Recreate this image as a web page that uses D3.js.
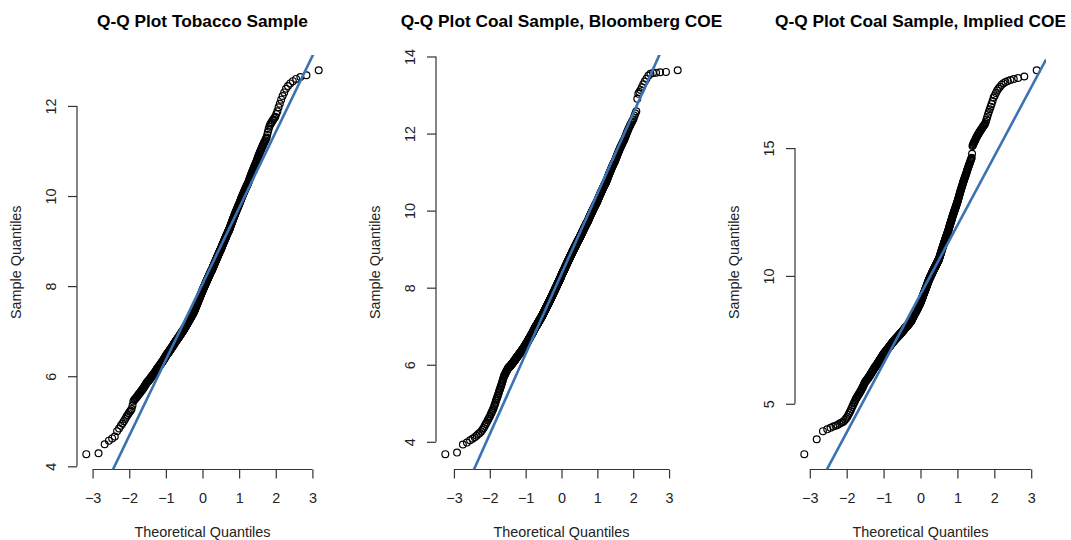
<!DOCTYPE html>
<html>
<head>
<meta charset="utf-8">
<script src="https://cdn.jsdelivr.net/npm/d3@7"></script>
<style>
  html, body { margin: 0; padding: 0; background: #fff; }
  svg { display: block; font-family: "Liberation Sans", Arial, Helvetica, sans-serif; }
</style>
</head>
<body>
<svg id="chart" width="1071" height="540"></svg>
<script>
// titles and tick labels
var panelTitles = ['Q-Q Plot Tobacco Sample', 'Q-Q Plot Coal Sample, Bloomberg COE', 'Q-Q Plot Coal Sample, Implied COE'];
var xLabel = 'Theoretical Quantiles',
    yLabel = 'Sample Quantiles';
var xTicks = [-3, -2, -1, 0, 1, 2, 3];
var yTicksTobacco = [4, 6, 8, 10, 12],
    yTicksBloomberg = [4, 6, 8, 10, 12, 14],
    yTicksImplied = [5, 10, 15];

// sorted sample values
var tobaccoSample = [
  4.27,4.29,4.49,4.57,4.62,4.66,4.78,4.84,4.90,4.95,5.00,5.05,5.10,5.14,5.18,5.21,
  5.24,5.27,5.35,5.44,5.47,5.49,5.51,5.53,5.55,5.57,5.59,
  5.61,5.62,5.64,5.66,5.68,5.69,5.71,5.73,5.74,5.76,5.78,5.79,5.81,5.83,5.84,5.86,5.87,
  5.88,5.89,5.90,5.91,5.92,5.93,5.94,5.96,5.97,5.98,5.99,6.00,6.01,6.02,6.03,6.04,6.05,6.06,6.07,6.08,6.09,6.10,6.11,6.12,6.13,6.15,
  6.16,6.17,6.17,6.18,6.19,6.20,6.21,6.22,6.22,6.23,6.24,6.25,6.26,6.27,6.28,6.28,6.29,6.30,6.31,6.32,6.33,6.33,6.34,6.35,6.36,6.37,6.38,6.39,6.39,6.40,6.41,6.42,6.43,6.44,6.45,
  6.46,6.46,6.47,6.48,6.48,6.49,6.50,6.50,6.51,6.52,6.52,6.53,6.54,6.54,6.55,6.56,6.56,6.57,6.58,6.58,6.59,6.60,6.60,6.61,6.62,6.62,6.63,6.64,6.64,6.65,6.66,6.66,6.67,6.68,6.68,6.69,6.70,6.70,6.71,6.72,6.72,6.73,6.74,6.74,6.75,
  6.76,6.76,6.77,6.77,6.78,6.79,6.79,6.80,6.80,6.81,6.81,6.82,6.82,6.83,6.84,6.84,6.85,6.85,6.86,6.86,6.87,6.87,6.88,6.89,6.89,6.90,6.90,6.91,6.91,6.92,6.92,6.93,6.94,6.94,6.95,6.95,6.96,6.96,6.97,6.97,6.98,6.99,6.99,7.00,7.00,7.01,7.01,7.02,7.02,7.03,7.04,7.04,7.05,7.05,
  7.06,7.06,7.07,7.07,7.08,7.09,7.09,7.10,7.10,7.11,7.12,7.12,7.13,7.13,7.14,7.14,7.15,7.16,7.16,7.17,7.17,7.18,7.19,7.19,7.20,7.20,7.21,7.21,7.22,7.23,7.23,7.24,7.24,7.25,7.26,7.26,7.27,7.27,7.28,7.28,7.29,7.30,7.30,7.31,7.31,7.32,7.33,7.33,7.34,7.34,7.35,7.35,7.36,7.37,7.37,7.38,7.38,7.39,7.39,7.40,7.40,
  7.41,7.42,7.42,7.43,7.44,7.45,7.45,7.46,7.47,7.48,7.48,7.49,7.50,7.51,7.52,7.52,7.53,7.54,7.55,7.55,7.56,7.57,7.58,7.58,7.59,7.60,7.61,7.62,7.62,7.63,7.64,7.65,7.65,7.66,7.67,7.68,7.68,7.69,7.70,7.71,7.72,7.72,7.73,7.74,7.75,7.75,7.76,7.77,7.78,7.78,7.79,7.80,7.81,7.82,7.82,7.83,7.84,7.85,7.85,7.86,7.87,7.88,7.88,7.89,7.90,
  7.91,7.91,7.92,7.93,7.93,7.94,7.95,7.96,7.96,7.97,7.98,7.98,7.99,8.00,8.00,8.01,8.02,8.03,8.03,8.04,8.05,8.05,8.06,8.07,8.07,8.08,8.09,8.10,8.10,8.11,8.12,8.12,8.13,8.14,8.14,8.15,8.16,8.17,8.17,8.18,8.19,8.19,8.20,8.21,8.21,8.22,8.23,8.24,8.24,8.25,8.26,8.26,8.27,8.28,8.28,8.29,8.30,8.31,8.31,8.32,8.33,8.33,8.34,8.34,8.35,8.35,
  8.36,8.37,8.37,8.38,8.39,8.40,8.40,8.41,8.42,8.43,8.44,8.44,8.45,8.46,8.47,8.47,8.48,8.49,8.50,8.51,8.51,8.52,8.53,8.54,8.54,8.55,8.56,8.57,8.58,8.58,8.59,8.60,8.61,8.61,8.62,8.63,8.64,8.65,8.65,8.66,8.67,8.68,8.68,8.69,8.70,8.71,8.72,8.72,8.73,8.74,8.75,8.75,8.76,8.77,8.78,8.79,8.79,8.80,8.81,8.81,8.82,
  8.83,8.84,8.85,8.86,8.86,8.87,8.88,8.89,8.90,8.91,8.92,8.93,8.93,8.94,8.95,8.96,8.97,8.98,8.99,9.00,9.00,9.01,9.02,9.03,9.04,9.05,9.06,9.07,9.07,9.08,9.09,9.10,9.11,9.12,9.13,9.14,9.14,9.15,9.16,9.17,9.18,9.19,9.20,9.21,9.21,9.22,9.23,9.24,9.25,9.26,9.27,9.28,9.28,9.30,
  9.31,9.32,9.34,9.35,9.36,9.37,9.38,9.39,9.40,9.42,9.43,9.44,9.45,9.46,9.47,9.49,9.50,9.51,9.52,9.53,9.54,9.56,9.57,9.58,9.59,9.60,9.61,9.63,9.64,9.65,9.66,9.67,9.68,9.70,9.71,9.72,9.73,9.74,9.75,9.77,9.78,9.79,9.80,9.81,9.82,
  9.84,9.85,9.86,9.88,9.89,9.90,9.92,9.93,9.95,9.96,9.97,9.99,10.00,10.01,10.03,10.04,10.05,10.07,10.08,10.09,10.11,10.12,10.14,10.15,10.16,10.18,10.19,10.20,10.22,10.23,10.24,10.26,10.27,10.28,10.30,
  10.32,10.34,10.36,10.38,10.40,10.42,10.44,10.46,10.48,10.50,10.52,10.54,10.56,10.58,10.60,10.62,10.64,10.66,10.68,10.70,10.72,10.74,10.76,10.79,10.82,
  10.85,10.87,10.90,10.92,10.95,10.98,11.00,11.03,11.05,11.08,11.11,11.13,11.16,11.19,11.21,11.24,11.27,11.30,
  11.36,11.42,11.48,11.54,11.58,11.61,11.64,11.67,11.70,11.73,
  11.76,11.82,11.88,11.97,12.05,12.14,12.22,12.30,12.38,12.44,12.50,12.55,12.60,12.64,12.68,12.79
];

var coalBloombergSample = [
  3.68,3.72,3.93,3.98,4.04,4.08,4.12,4.16,4.20,4.23,4.27,4.31,4.36,4.41,4.46,4.50,4.55,4.59,4.64,4.67,
  4.72,4.76,4.80,4.84,4.88,4.93,4.97,
  5.02,5.07,5.11,5.15,5.19,5.23,5.27,
  5.31,5.35,5.38,5.42,5.45,5.49,5.52,5.56,5.59,5.63,5.66,5.70,
  5.72,5.74,5.76,5.77,5.79,5.81,5.83,5.85,5.86,5.88,5.90,
  5.91,5.92,5.93,5.94,5.95,5.95,5.96,5.97,5.98,5.99,6.00,6.01,6.02,6.03,6.03,6.04,6.05,6.06,6.07,6.08,6.09,6.10,6.11,6.11,6.12,6.13,6.14,6.15,6.16,6.17,6.18,6.19,
  6.20,6.21,6.21,6.22,6.23,6.24,6.24,6.25,6.26,6.26,6.27,6.28,6.29,6.29,6.30,6.31,6.32,6.32,6.33,6.34,6.35,6.35,6.36,6.37,6.37,6.38,6.39,6.40,6.40,6.41,6.42,6.43,6.43,6.44,6.45,6.45,6.46,6.47,6.48,6.48,6.49,6.50,6.51,6.51,6.52,
  6.53,6.54,6.54,6.55,6.56,6.57,6.57,6.58,6.59,6.59,6.60,6.61,6.62,6.62,6.63,6.64,6.65,6.65,6.66,6.67,6.68,6.68,6.69,6.70,6.70,6.71,6.72,6.73,6.73,6.74,6.75,6.76,6.76,6.77,6.78,6.79,6.79,6.80,6.81,6.81,6.82,6.83,6.84,6.84,6.85,6.86,6.87,6.87,6.88,6.89,6.90,6.90,6.91,6.92,6.92,6.93,6.94,
  6.95,6.95,6.96,6.97,6.97,6.98,6.98,6.99,6.99,7.00,7.01,7.01,7.02,7.02,7.03,7.04,7.04,7.05,7.05,7.06,7.06,7.07,7.08,7.08,7.09,7.09,7.10,7.11,7.11,7.12,7.12,7.13,7.13,7.14,7.15,7.15,7.16,7.16,7.17,7.18,7.18,7.19,7.19,7.20,7.20,7.21,7.22,7.22,7.23,7.23,7.24,7.25,7.25,7.26,7.26,7.27,7.27,7.28,7.29,7.29,7.30,7.30,7.31,7.32,7.32,7.33,7.33,7.34,7.35,
  7.36,7.36,7.37,7.37,7.38,7.39,7.39,7.40,7.40,7.41,7.42,7.42,7.43,7.43,7.44,7.45,7.45,7.46,7.46,7.47,7.48,7.48,7.49,7.49,7.50,7.51,7.51,7.52,7.52,7.53,7.54,7.54,7.55,7.55,7.56,7.57,7.57,7.58,7.58,7.59,7.60,7.60,7.61,7.61,7.62,7.63,7.63,7.64,7.64,7.65,7.66,7.66,7.67,7.67,7.68,7.69,7.69,7.70,7.70,7.71,7.72,7.72,7.73,7.73,7.74,7.75,7.75,7.76,7.76,7.77,7.78,7.78,7.79,7.79,7.80,7.81,7.81,7.82,
  7.83,7.83,7.84,7.84,7.85,7.86,7.86,7.87,7.87,7.88,7.89,7.89,7.90,7.90,7.91,7.92,7.92,7.93,7.93,7.94,7.95,7.95,7.96,7.96,7.97,7.98,7.98,7.99,7.99,8.00,8.01,8.01,8.02,8.02,8.03,8.04,8.04,8.05,8.05,8.06,8.07,8.07,8.08,8.08,8.09,8.10,8.10,8.11,8.11,8.12,8.13,8.13,8.14,8.14,8.15,8.16,8.16,8.17,8.17,8.18,8.19,8.19,8.20,8.20,8.21,8.22,8.22,8.23,8.23,8.24,8.25,8.25,8.26,8.26,8.27,8.28,8.28,8.29,8.29,8.30,8.31,8.32,
  8.33,8.33,8.34,8.34,8.35,8.36,8.36,8.37,8.37,8.38,8.39,8.39,8.40,8.40,8.41,8.42,8.42,8.43,8.43,8.44,8.45,8.45,8.46,8.46,8.47,8.48,8.48,8.49,8.49,8.50,8.51,8.51,8.52,8.52,8.53,8.54,8.54,8.55,8.55,8.56,8.57,8.57,8.58,8.58,8.59,8.60,8.60,8.61,8.61,8.62,8.63,8.63,8.64,8.64,8.65,8.66,8.66,8.67,8.67,8.68,8.69,8.69,8.70,8.70,8.71,8.72,8.72,8.73,8.73,8.74,8.75,8.75,8.76,8.76,8.77,8.78,8.78,8.79,8.79,8.80,8.81,8.81,8.82,
  8.83,8.83,8.84,8.84,8.85,8.86,8.86,8.87,8.87,8.88,8.89,8.89,8.90,8.90,8.91,8.92,8.92,8.93,8.93,8.94,8.95,8.95,8.96,8.96,8.97,8.98,8.98,8.99,8.99,9.00,9.01,9.01,9.02,9.02,9.03,9.04,9.04,9.05,9.05,9.06,9.07,9.07,9.08,9.08,9.09,9.10,9.10,9.11,9.11,9.12,9.13,9.13,9.14,9.14,9.15,9.16,9.16,9.17,9.17,9.18,9.19,9.19,9.20,9.20,9.21,9.22,9.22,9.23,9.23,9.24,9.25,9.25,9.26,9.26,9.27,9.27,9.28,9.28,
  9.29,9.30,9.30,9.31,9.32,9.32,9.33,9.34,9.34,9.35,9.36,9.36,9.37,9.38,9.38,9.39,9.40,9.40,9.41,9.42,9.43,9.43,9.44,9.45,9.45,9.46,9.47,9.47,9.48,9.49,9.49,9.50,9.51,9.51,9.52,9.53,9.54,9.54,9.55,9.56,9.56,9.57,9.58,9.58,9.59,9.60,9.60,9.61,9.62,9.62,9.63,9.64,9.65,9.65,9.66,9.67,9.67,9.68,9.69,9.69,9.70,9.71,9.71,9.72,9.73,9.74,9.74,9.75,9.76,
  9.77,9.78,9.79,9.79,9.80,9.81,9.82,9.83,9.84,9.85,9.85,9.86,9.87,9.88,9.89,9.90,9.91,9.91,9.92,9.93,9.94,9.95,9.96,9.96,9.97,9.98,9.99,10.00,10.01,10.02,10.02,10.03,10.04,10.05,10.06,10.07,10.08,10.08,10.09,10.10,10.11,10.12,10.13,10.13,10.14,10.15,10.16,10.17,10.18,10.19,10.19,10.20,10.21,10.22,10.23,10.24,10.25,
  10.26,10.27,10.28,10.29,10.31,10.32,10.33,10.34,10.35,10.36,10.37,10.38,10.40,10.41,10.42,10.43,10.44,10.45,10.46,10.47,10.49,10.50,10.51,10.52,10.53,10.54,10.55,10.56,10.58,10.59,10.60,10.61,10.62,10.63,10.64,10.66,10.67,10.68,10.69,10.70,10.71,10.72,10.73,10.75,10.76,
  10.78,10.79,10.81,10.83,10.84,10.86,10.88,10.89,10.91,10.93,10.95,10.96,10.98,11.00,11.01,11.03,11.05,11.06,11.08,11.10,11.12,11.13,11.15,11.17,11.18,11.20,11.22,11.23,11.25,11.27,11.28,11.30,
  11.32,11.35,11.37,11.39,11.42,11.44,11.47,11.49,11.51,11.54,11.56,11.58,11.61,11.63,11.66,11.68,11.70,11.73,11.75,11.78,11.80,11.82,11.85,
  11.88,11.92,11.95,11.99,12.03,12.06,12.10,12.14,12.17,12.21,12.24,12.28,12.31,
  12.35,12.40,12.46,12.52,12.58,12.90,13.03,13.08,13.13,13.20,13.28,13.35,13.42,13.50,13.55,13.57,13.58,13.59,13.60,13.64
];

var coalImpliedSample = [
  3.03,3.61,3.93,4.00,4.06,4.11,4.14,4.17,4.22,4.26,4.28,4.32,4.38,4.43,4.49,
  4.57,4.65,4.72,4.80,4.87,4.94,5.01,5.07,5.14,5.20,
  5.24,5.28,5.32,5.36,5.40,5.44,5.48,5.52,5.56,5.60,5.64,5.68,5.72,5.76,5.80,5.84,
  5.87,5.89,5.91,5.94,5.96,5.98,6.01,6.03,6.05,6.08,6.10,6.12,6.15,6.17,6.19,6.22,6.24,6.26,6.29,6.31,6.33,6.36,6.38,6.40,
  6.42,6.44,6.45,6.47,6.49,6.50,6.52,6.54,6.56,6.57,6.59,6.61,6.62,6.64,6.66,6.68,6.69,6.71,6.73,6.74,6.76,6.78,6.79,6.81,6.83,6.85,6.86,6.88,6.90,6.91,6.93,6.95,
  6.96,6.97,6.98,6.99,7.00,7.02,7.03,7.04,7.05,7.06,7.07,7.08,7.09,7.11,7.12,7.13,7.14,7.15,7.16,7.17,7.18,7.20,7.21,7.22,7.23,7.24,7.25,7.26,7.27,7.29,7.30,7.31,7.32,7.33,7.34,7.35,7.36,7.38,7.39,7.40,7.41,7.42,
  7.43,7.44,7.44,7.45,7.46,7.47,7.48,7.48,7.49,7.50,7.51,7.52,7.52,7.53,7.54,7.55,7.56,7.56,7.57,7.58,7.59,7.60,7.60,7.61,7.62,7.63,7.64,7.64,7.65,7.66,7.67,7.68,7.68,7.69,7.70,7.71,7.72,7.72,7.73,7.74,7.75,7.76,7.76,7.77,7.78,7.79,7.80,7.80,7.81,7.82,
  7.83,7.84,7.84,7.85,7.86,7.87,7.87,7.88,7.89,7.90,7.90,7.91,7.92,7.93,7.93,7.94,7.95,7.96,7.96,7.97,7.98,7.99,7.99,8.00,8.01,8.02,8.02,8.03,8.04,8.05,8.05,8.06,8.07,8.08,8.08,8.09,8.10,8.11,8.11,8.12,8.13,8.14,8.14,8.15,8.16,8.17,8.17,8.18,8.19,8.20,8.20,8.21,8.22,8.23,8.24,8.25,
  8.26,8.27,8.28,8.30,8.31,8.32,8.33,8.34,8.35,8.37,8.38,8.39,8.40,8.41,8.42,8.44,8.45,8.46,8.47,8.48,8.49,8.51,8.52,8.53,8.54,8.55,8.56,8.58,8.59,8.60,8.61,8.62,8.63,8.65,8.66,8.67,8.68,8.69,8.70,8.72,8.73,8.74,8.75,8.76,8.77,8.79,8.80,8.81,8.82,8.83,8.84,8.86,8.87,8.88,8.89,8.90,8.91,8.93,8.94,8.95,
  8.97,8.98,9.00,9.02,9.03,9.05,9.06,9.08,9.10,9.11,9.13,9.14,9.16,9.18,9.19,9.21,9.22,9.24,9.26,9.27,9.29,9.30,9.32,9.34,9.35,9.37,9.38,9.40,9.42,9.43,9.45,9.46,9.48,9.50,9.51,9.53,9.54,9.56,9.58,9.59,9.61,9.62,9.64,9.66,9.67,9.69,9.70,9.72,9.74,9.75,9.77,9.78,9.80,9.82,9.83,9.85,9.86,9.88,9.89,9.90,9.92,
  9.93,9.95,9.96,9.97,9.99,10.00,10.01,10.02,10.04,10.05,10.06,10.08,10.09,10.10,10.12,10.13,10.14,10.15,10.17,10.18,10.19,10.21,10.22,10.23,10.25,10.26,10.27,10.28,10.30,10.31,10.32,10.34,10.35,10.36,10.38,10.39,10.40,10.41,10.43,10.44,10.45,10.47,10.48,10.49,10.51,10.52,10.53,10.54,10.56,10.57,10.58,10.60,10.61,10.62,10.64,10.65,
  10.67,10.69,10.71,10.74,10.76,10.78,10.80,10.82,10.85,10.87,10.89,10.91,10.93,10.96,10.98,11.00,11.02,11.04,11.07,11.09,11.11,11.13,11.15,11.18,11.20,11.22,11.24,11.26,11.29,11.31,11.33,11.35,11.37,11.40,11.42,11.44,11.46,11.48,11.51,11.53,11.55,11.57,11.59,11.62,11.64,11.66,11.68,11.70,11.73,11.75,
  11.78,11.81,11.83,11.86,11.89,11.92,11.94,11.97,12.00,12.02,12.05,12.08,12.11,12.13,12.16,12.19,12.21,12.24,12.27,12.30,12.32,12.35,12.38,12.40,12.43,12.46,12.49,12.51,12.54,12.57,12.59,12.62,12.65,12.68,12.70,12.73,12.76,12.78,12.81,12.84,12.87,12.90,
  12.94,12.97,13.01,13.04,13.08,13.12,13.15,13.19,13.22,13.26,13.30,13.33,13.37,13.40,13.44,13.48,13.51,13.55,13.58,13.62,13.66,13.69,13.73,13.76,13.80,13.84,13.87,13.91,13.94,13.98,14.01,14.05,
  14.10,14.14,14.18,14.22,14.26,14.30,14.34,14.38,14.42,14.46,14.50,14.54,14.58,14.62,
  14.78,
  15.08,15.12,15.16,15.20,15.24,15.27,15.30,15.34,15.38,
  15.42,15.45,15.49,15.52,15.56,15.59,15.63,15.66,15.70,15.73,15.77,15.80,15.84,15.87,15.91,15.95,
  16.02,16.12,16.22,16.32,16.42,16.52,16.62,16.72,16.84,
  16.98,17.06,17.15,17.25,17.33,17.40,17.48,17.54,17.58,17.62,17.66,17.70,17.74,17.80,18.04
];

// qqline of each panel: [intercept, slope]
var tobaccoLine = [8.05, 1.686],
    bloombergLine = [8.36, 2.08],
    impliedLine = [9.28, 2.70];

var panels = [
  { title: panelTitles[0], sample: tobaccoSample, yTicks: yTicksTobacco, line: tobaccoLine, left: 77 },
  { title: panelTitles[1], sample: coalBloombergSample, yTicks: yTicksBloomberg, line: bloombergLine, left: 436 },
  { title: panelTitles[2], sample: coalImpliedSample, yTicks: yTicksImplied, line: impliedLine, left: 795 }
];

var plotW = 251, plotTop = 55, plotBottom = 469.5;
var lineColor = '#3b72b2';

// inverse normal cdf (Acklam)
function qnorm(p) {
  var a = [-3.969683028665376e+01, 2.209460984245205e+02, -2.759285104469687e+02, 1.383577518672690e+02, -3.066479806614716e+01, 2.506628277459239e+00],
      b = [-5.447609879822406e+01, 1.615858368580409e+02, -1.556989798598866e+02, 6.680131188771972e+01, -1.328068155288572e+01],
      c = [-7.784894002430293e-03, -3.223964580411365e-01, -2.400758277161838e+00, -2.549732539343734e+00, 4.374664141464968e+00, 2.938163982698783e+00],
      d = [7.784695709041462e-03, 3.224671290700398e-01, 2.445134137142996e+00, 3.754408661907416e+00];
  var plow = 0.02425, q, r;
  if (p < plow) {
    q = Math.sqrt(-2 * Math.log(p));
    return (((((c[0] * q + c[1]) * q + c[2]) * q + c[3]) * q + c[4]) * q + c[5]) /
           ((((d[0] * q + d[1]) * q + d[2]) * q + d[3]) * q + 1);
  }
  if (p > 1 - plow) {
    return -qnorm(1 - p);
  }
  q = p - 0.5;
  r = q * q;
  return (((((a[0] * r + a[1]) * r + a[2]) * r + a[3]) * r + a[4]) * r + a[5]) * q /
         (((((b[0] * r + b[1]) * r + b[2]) * r + b[3]) * r + b[4]) * r + 1);
}

var svg = d3.select('#chart');

panels.forEach(function (pn, k) {
  var sorted = pn.sample.slice().sort(d3.ascending);
  var n = sorted.length;
  // ppoints(n), a = 1/2
  var pts = sorted.map(function (v, i) { return { q: qnorm((i + 0.5) / n), v: v }; });

  var qExt = d3.extent(pts, function (d) { return d.q; }),
      vExt = d3.extent(sorted);
  var qPad = (qExt[1] - qExt[0]) * 0.04,
      vPad = (vExt[1] - vExt[0]) * 0.04;

  var x = d3.scaleLinear().domain([qExt[0] - qPad, qExt[1] + qPad]).range([pn.left, pn.left + plotW]);
  var y = d3.scaleLinear().domain([vExt[0] - vPad, vExt[1] + vPad]).range([plotBottom, plotTop]);
  var cx = pn.left + plotW / 2;

  var g = svg.append('g');

  // title
  g.append('text')
    .attr('x', cx)
    .attr('y', 20.5)
    .attr('dy', '0.35em')
    .attr('text-anchor', 'middle')
    .attr('font-size', '17.3px')
    .attr('font-weight', 'bold')
    .attr('fill', '#000')
    .text(pn.title);

  // x axis
  var gx = g.append('g')
    .attr('transform', 'translate(0,' + plotBottom + ')')
    .call(d3.axisBottom(x).tickValues(xTicks).tickSize(9).tickSizeOuter(0).tickPadding(14).tickFormat(d3.format('d')));
  gx.select('.domain').attr('d', 'M' + x(xTicks[0]) + ',0H' + x(xTicks[xTicks.length - 1]));
  gx.selectAll('path, line').attr('stroke', '#333').attr('stroke-width', 1.2);
  gx.selectAll('text').attr('font-size', '14.4px').attr('fill', '#222');

  // y axis
  var yt = pn.yTicks;
  var gy = g.append('g')
    .attr('transform', 'translate(' + pn.left + ',0)')
    .call(d3.axisLeft(y).tickValues(yt).tickSize(9).tickSizeOuter(0).tickFormat(d3.format('d')));
  gy.select('.domain').attr('d', 'M0,' + y(yt[0]) + 'V' + y(yt[yt.length - 1]));
  gy.selectAll('path, line').attr('stroke', '#333').attr('stroke-width', 1.2);
  gy.selectAll('text')
    .attr('x', null)
    .attr('dy', '0.35em')
    .attr('text-anchor', 'middle')
    .attr('transform', 'translate(-26.5,0) rotate(-90)')
    .attr('font-size', '14.4px')
    .attr('fill', '#222');
  g.selectAll('.domain').attr('fill', 'none');
  g.selectAll('g').attr('font-family', null);

  // axis titles
  g.append('text')
    .attr('x', cx)
    .attr('y', plotBottom + 62.5)
    .attr('dy', '0.35em')
    .attr('text-anchor', 'middle')
    .attr('font-size', '14.4px')
    .attr('fill', '#222')
    .text(xLabel);

  g.append('text')
    .attr('transform', 'translate(' + (pn.left - 61) + ',' + ((plotTop + plotBottom) / 2) + ') rotate(-90)')
    .attr('dy', '0.35em')
    .attr('text-anchor', 'middle')
    .attr('font-size', '14.4px')
    .attr('fill', '#222')
    .text(yLabel);

  // points
  g.append('g')
    .selectAll('circle')
    .data(pts)
    .enter()
    .append('circle')
    .attr('cx', function (d) { return x(d.q); })
    .attr('cy', function (d) { return y(d.v); })
    .attr('r', 3.4)
    .attr('fill', 'none')
    .attr('stroke', '#000')
    .attr('stroke-width', 1.2);

  // qqline, clipped to the plot region
  var clipId = 'clip' + k;
  svg.append('clipPath').attr('id', clipId)
    .append('rect')
    .attr('x', pn.left).attr('y', plotTop)
    .attr('width', plotW).attr('height', plotBottom - plotTop);

  var qd = x.domain();
  var ln = d3.line()
    .x(function (d) { return x(d); })
    .y(function (d) { return y(pn.line[0] + pn.line[1] * d); });
  g.append('path')
    .datum([qd[0], qd[1]])
    .attr('clip-path', 'url(#' + clipId + ')')
    .attr('fill', 'none')
    .attr('stroke', lineColor)
    .attr('stroke-width', 2.6)
    .attr('d', ln);
});
</script>
</body>
</html>
